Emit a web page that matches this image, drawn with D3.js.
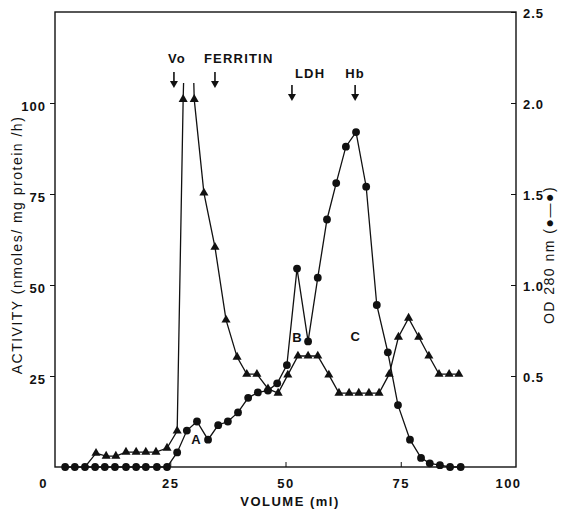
<!DOCTYPE html>
<html>
<head>
<meta charset="utf-8">
<script src="https://cdnjs.cloudflare.com/ajax/libs/d3/7.8.5/d3.min.js"></script>
<style>
  body { margin: 0; background: #fff; }
  svg text { font-family: "Liberation Sans", Arial, sans-serif; fill: #111; }
  .axis path, .axis line { stroke: #111; }
</style>
</head>
<body>
<svg id="chart" width="562" height="512"></svg>
<script>
// OD 280 nm profile (circles, right axis)
var odVolume = [2.2, 4.3, 6.5, 8.7, 10.8, 13.0, 15.4, 17.6, 19.7, 22.1, 24.3, 26.5, 28.6, 30.8, 33.2, 35.4, 37.5, 39.7, 41.9, 44.0,
                46.2, 48.2, 50.3, 52.5, 54.9, 57.0, 59.0, 61.0, 63.1, 65.3, 67.5, 69.8, 72.2, 74.4, 77.0, 79.4, 81.3, 83.5, 85.7, 88.0];
var odValues = [0, 0, 0, 0, 0, 0, 0, 0, 0, 0, 0, 0.08, 0.20, 0.25, 0.15, 0.23, 0.25, 0.30, 0.38, 0.41,
                0.42, 0.46, 0.56, 1.09, 0.69, 1.04, 1.36, 1.56, 1.76, 1.84, 1.54, 0.89, 0.63, 0.34, 0.15, 0.05, 0.02, 0.01, 0, 0];

// enzyme activity (triangles, left axis); the peak near 29 ml runs off scale
var actVolume = [6.5, 8.9, 11.1, 13.2, 15.4, 17.6, 19.7, 21.9, 24.3, 26.5, 27.8, 29.0, 30.2, 32.3, 34.7, 37.1, 39.5, 41.6, 43.8, 46.2,
                 48.4, 50.5, 52.7, 54.9, 57.0, 59.4, 61.6, 63.8, 65.9, 68.1, 70.3, 72.5, 74.5, 76.7, 78.9, 81.1, 83.3, 85.5, 87.6];
var actValues = [0, 3.8, 3.0, 3.0, 4.1, 4.1, 4.1, 4.1, 5.2, 9.9, 101, 160, 101, 75.3, 60.4, 40.4, 30.2, 25.5, 25.5, 21.5,
                 20.3, 25.3, 30.5, 30.5, 30.5, 25.3, 20.3, 20.3, 20.3, 20.3, 20.3, 25.5, 35.7, 40.9, 35.7, 30.5, 25.5, 25.5, 25.5];

var xTicks = [0, 25, 50, 75, 100];
var leftTicks = [25, 50, 75, 100];
var rightTicks = [0.5, 1.0, 1.5, 2.0, 2.5];

// calibration markers and peak labels
var markerNames = ["Vo", "FERRITIN", "LDH", "Hb"];
var markerVolume = [25.8, 34.7, 51.4, 65.1];
var peakNames = ["A", "B", "C"];
var peakVolume = [30.6, 52.5, 65.1];
var peakActivity = [7.5, 35.5, 36];

var svg = d3.select('#chart');
var pLeft = 55, pRight = 516, pTop = 12, pBottom = 467;

var x = d3.scaleLinear().domain([0, 100]).range([pLeft, pRight]);
var y = d3.scaleLinear().domain([0, 125]).range([pBottom, pTop]);
var yR = d3.scaleLinear().domain([0, 2.5]).range([pBottom, pTop]);

var g = svg.append("g");

// frame
g.append("rect")
  .attr("x", pLeft).attr("y", pTop)
  .attr("width", pRight - pLeft).attr("height", pBottom - pTop)
  .attr("fill", "none").attr("stroke", "#111").attr("stroke-width", 1.4);

// bottom axis
var gx = g.append("g")
  .attr("class", "axis x")
  .attr("transform", "translate(0," + pBottom + ")")
  .call(d3.axisBottom(x).tickValues(xTicks).tickSizeInner(-5).tickSizeOuter(0).tickPadding(12));
gx.select(".domain").remove();
gx.selectAll("text")
  .style("font-size", "13px").style("font-weight", "bold").style("letter-spacing", "1.5px")
  .attr("dx", function(d) { return d === 0 ? -12 : (d === 100 ? -8 : 0); });
gx.selectAll(".tick").filter(function(d) { return d === 0 || d === 100; }).select("line").remove();

// left axis
var gl = g.append("g")
  .attr("class", "axis y")
  .attr("transform", "translate(" + pLeft + ",0)")
  .call(d3.axisLeft(y).tickValues(leftTicks).tickSizeInner(5).tickSizeOuter(0).tickPadding(4));
gl.select(".domain").remove();
gl.selectAll("text")
  .style("font-size", "13px").style("font-weight", "bold").style("letter-spacing", "1px")
  .attr("dy", "0.55em");

// right axis
var gr = g.append("g")
  .attr("class", "axis yr")
  .attr("transform", "translate(" + pRight + ",0)")
  .call(d3.axisRight(yR).tickValues(rightTicks).tickFormat(d3.format(".1f")).tickSizeInner(-5).tickSizeOuter(0).tickPadding(7));
gr.select(".domain").remove();
gr.selectAll("text")
  .style("font-size", "13px").style("font-weight", "bold").style("letter-spacing", "1px")
  .attr("dy", "0.4em");

// axis titles
g.append("text")
  .attr("x", 290).attr("y", 506)
  .attr("text-anchor", "middle")
  .style("font-size", "13px").style("font-weight", "bold").style("letter-spacing", "1.5px")
  .text("VOLUME (ml)");

g.append("text")
  .attr("transform", "translate(22,245) rotate(-90)")
  .attr("text-anchor", "middle")
  .style("font-size", "14px").style("letter-spacing", "1.5px")
  .text("ACTIVITY (nmoles/ mg protein /h)");

g.append("text")
  .attr("transform", "translate(554,255) rotate(-90)")
  .attr("text-anchor", "middle")
  .style("font-size", "14px").style("letter-spacing", "1.5px")
  .text("OD 280 nm  (●—●)");

// data
var actData = actVolume.map(function(v, i) { return {v: v, a: actValues[i]}; });
var odData = odVolume.map(function(v, i) { return {v: v, a: odValues[i]}; });

svg.append("defs").append("clipPath").attr("id", "clipTop")
  .append("rect")
  .attr("x", pLeft).attr("y", y(105.5))
  .attr("width", pRight - pLeft).attr("height", pBottom - y(105.5));

var line = d3.line()
  .x(function(d) { return x(d.v); });

g.append("path")
  .datum(actData)
  .attr("clip-path", "url(#clipTop)")
  .attr("fill", "none").attr("stroke", "#111").attr("stroke-width", 1.3)
  .attr("d", line.y(function(d) { return y(d.a); }));

g.append("path")
  .datum(odData)
  .attr("fill", "none").attr("stroke", "#111").attr("stroke-width", 1.3)
  .attr("d", line.y(function(d) { return yR(d.a); }));

g.selectAll(".tri")
  .data(actData.filter(function(d) { return d.a > 0 && d.a <= 125; }))
  .enter().append("path")
  .attr("class", "tri")
  .attr("transform", function(d) { return "translate(" + x(d.v) + "," + y(d.a) + ")"; })
  .attr("d", d3.symbol().type(d3.symbolTriangle).size(36))
  .attr("fill", "#111");

g.selectAll(".dot")
  .data(odData)
  .enter().append("circle")
  .attr("class", "dot")
  .attr("cx", function(d) { return x(d.v); })
  .attr("cy", function(d) { return yR(d.a); })
  .attr("r", 3.9)
  .attr("fill", "#111");

// calibration arrows
var arrowTop = [72, 72, 85, 85];
markerNames.forEach(function(name, i) {
  var ax = x(markerVolume[i]);
  var y0 = arrowTop[i], y1 = y0 + 16;
  g.append("line")
    .attr("x1", ax).attr("x2", ax).attr("y1", y0).attr("y2", y1 - 4)
    .attr("stroke", "#111").attr("stroke-width", 1.6);
  g.append("path")
    .attr("d", "M" + (ax - 4) + "," + (y1 - 7) + "L" + (ax + 4) + "," + (y1 - 7) + "L" + ax + "," + y1 + "Z")
    .attr("fill", "#111");
  var tx = ax, anchor = "middle";
  if (name === "Vo") tx = ax + 3;
  if (name === "FERRITIN") { tx = ax - 11; anchor = "start"; }
  if (name === "LDH") { tx = ax + 3; anchor = "start"; }
  g.append("text")
    .attr("x", tx).attr("y", y0 - (i < 2 ? 9 : 7))
    .attr("text-anchor", anchor)
    .style("font-size", "13px").style("font-weight", "bold").style("letter-spacing", "1.2px")
    .text(name);
});

// peak labels
peakNames.forEach(function(name, i) {
  g.append("text")
    .attr("x", x(peakVolume[i])).attr("y", y(peakActivity[i]))
    .attr("text-anchor", "middle").attr("dy", "0.35em")
    .style("font-size", "13px").style("font-weight", "bold")
    .text(name);
});
</script>
</body>
</html>
